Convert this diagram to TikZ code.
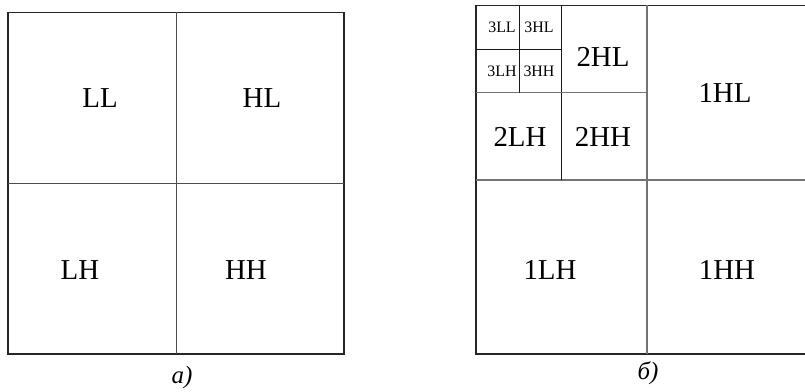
\documentclass[tikz,border=0pt]{standalone}
\usepackage{fontspec}
\setmainfont{Liberation Serif}
\begin{document}
\begin{tikzpicture}[x=1bp,y=-1bp,
  big/.style={font=\fontsize{29}{32}\selectfont, inner sep=0pt},
  small/.style={font=\fontsize{16}{18}\selectfont, inner sep=0pt},
  captext/.style={font=\fontsize{25}{28}\selectfont\itshape, inner sep=0pt},
  outer/.style={line width=1.1bp, draw=black!85},
  midgray/.style={line width=1.1bp, draw=black!55},
  inner/.style={line width=1bp, draw=black!70},
  dark/.style={line width=1bp, draw=black!90}]
\useasboundingbox (0,0) rectangle (805,391);
% ---- panel a ----
\draw[outer] (8,12.3) rectangle (344,354);
\draw[inner] (176,12.3) -- (176,354);
\draw[inner] (8,183) -- (344,183);
\node[big] (ll) at (100,98) {LL};
\node[big] (hl) at (262,98) {HL};
\node[big] (lh) at (80,270) {LH};
\node[big] (hh) at (246,270) {HH};
\node[captext] (ca) at (182,378) {a)};
% ---- panel b ----
\draw[outer] (806,5.3) -- (476,5.3) -- (476,354) -- (806,354);
\draw[midgray] (647,5.3) -- (647,354);
\draw[midgray] (476,180) -- (806,180);
\draw[dark] (561,5.3) -- (561,180);
\draw[midgray] (476,92.7) -- (647,92.7);
\draw[dark] (519,5.3) -- (519,92.7);
\draw[dark] (476,49.5) -- (561,49.5);
\node[small] (l3ll) at (502,27.5) {3LL};
\node[small] (l3hl) at (539,27.5) {3HL};
\node[small] (l3lh) at (502,71) {3LH};
\node[small] (l3hh) at (539,71) {3HH};
\node[big] (l2hl) at (603,57) {2HL};
\node[big] (l2lh) at (520,137) {2LH};
\node[big] (l2hh) at (603,137) {2HH};
\node[big] (l1hl) at (725,93) {1HL};
\node[big] (l1lh) at (550,270) {1LH};
\node[big] (l1hh) at (727,270) {1HH};
\node[captext] (cb) at (648,373) {б)};
\end{tikzpicture}
\end{document}
